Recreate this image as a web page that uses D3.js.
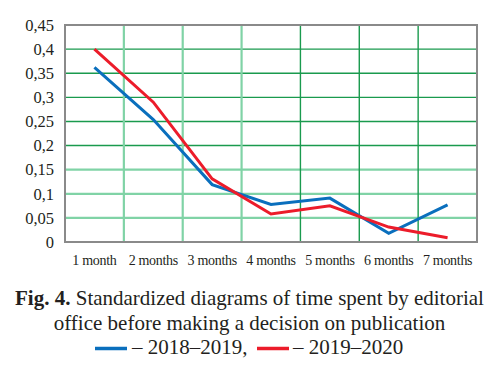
<!DOCTYPE html>
<html><head><meta charset="utf-8">
<script src="https://cdn.jsdelivr.net/npm/d3@7"></script>
<style>body{margin:0;background:#fff}svg{display:block}</style>
</head><body>
<svg id="c" width="499" height="367"></svg>
<script>
const categories = ["1 month","2 months","3 months","4 months","5 months","6 months","7 months"];
const series2018 = [0.362,0.254,0.119,0.078,0.091,0.018,0.077];
const series2019 = [0.400,0.290,0.131,0.058,0.075,0.031,0.009];
const yTicks = [0,0.05,0.1,0.15,0.2,0.25,0.3,0.35,0.4,0.45];
const lightH = [0.05,0.1,0.15];
const lightV = [0,1,2];

const svg = d3.select("#c");
const L=65, R=477, T=25, B=242;
const font = '"Liberation Serif", "Times New Roman", serif';
const ink = "#231f20";
const x = d3.scaleBand().domain(categories).range([L,R]);
const y = d3.scaleLinear().domain([0,0.45]).range([B,T]);
const fmt = d => String(+d.toFixed(2)).replace(".", ",");
const isLightH = d => lightH.some(v=>Math.abs(v-d)<1e-9);

// horizontal grid
svg.append("g").selectAll("line").data(yTicks.filter(d=>d>0&&d<0.45)).join("line")
  .attr("x1",L).attr("x2",R).attr("y1",d=>y(d)).attr("y2",d=>y(d))
  .attr("stroke",d=>isLightH(d)?"#80d3a6":"#1a9a4e")
  .attr("stroke-width",d=>isLightH(d)?2.2:1.4);
// vertical grid
svg.append("g").selectAll("line").data(categories.slice(1)).join("line")
  .attr("x1",d=>x(d)).attr("x2",d=>x(d)).attr("y1",T).attr("y2",B)
  .attr("stroke",(d,i)=>lightV.includes(i)?"#80d3a6":"#1a9a4e")
  .attr("stroke-width",(d,i)=>lightV.includes(i)?2.2:1.4);

// frame
svg.append("rect").attr("x",L).attr("y",T).attr("width",R-L).attr("height",B-T)
  .attr("fill","none").attr("stroke","#8a8a8a").attr("stroke-width",2);

// y axis labels
const ya = svg.append("g").attr("transform",`translate(${L},0)`)
  .call(d3.axisLeft(y).tickValues(yTicks).tickFormat(fmt).tickSize(0).tickPadding(11));
ya.select(".domain").remove();
ya.selectAll("text").style("font-family",font).style("font-size","16.5px").attr("fill",ink);

// x axis labels
const xa = svg.append("g").attr("transform",`translate(0,${B})`)
  .call(d3.axisBottom(x).tickSize(0).tickPadding(13));
xa.select(".domain").remove();
xa.selectAll("text").style("font-family",font).style("font-size","14px").attr("fill",ink)
  .style("letter-spacing","-0.3px");

// lines
const line = d3.line().x((d,i)=>x(categories[i])+x.bandwidth()/2).y(d=>y(d));
svg.append("path").datum(series2018).attr("d",line).attr("fill","none")
  .attr("stroke","#0a6fbd").attr("stroke-width",3);
svg.append("path").datum(series2019).attr("d",line).attr("fill","none")
  .attr("stroke","#ec1c2a").attr("stroke-width",3);

// caption
const cap = svg.append("g").style("font-family",font).style("font-size","21px").attr("fill",ink);
const t1 = cap.append("text").attr("x",249.5).attr("y",305).attr("text-anchor","middle");
t1.append("tspan").attr("font-weight","bold").text("Fig. 4.");
t1.append("tspan").text(" Standardized diagrams of time spent by editorial");
cap.append("text").attr("x",249.5).attr("y",330).attr("text-anchor","middle")
  .text("office before making a decision on publication");
svg.append("line").attr("x1",95).attr("x2",127).attr("y1",348.5).attr("y2",348.5)
  .attr("stroke","#0a6fbd").attr("stroke-width",3.5);
cap.append("text").attr("x",132).attr("y",354).text("– 2018–2019,");
svg.append("line").attr("x1",257).attr("x2",289).attr("y1",348.5).attr("y2",348.5)
  .attr("stroke","#ec1c2a").attr("stroke-width",3.5);
cap.append("text").attr("x",293).attr("y",354).text("– 2019–2020");
</script>
</body></html>
